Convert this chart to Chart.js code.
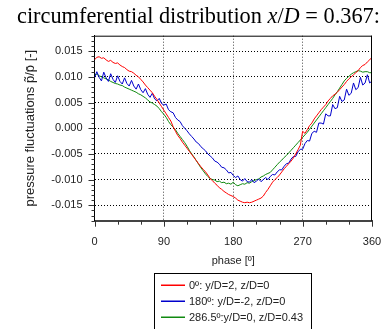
<!DOCTYPE html>
<html><head><meta charset="utf-8">
<script src="https://cdn.jsdelivr.net/npm/chart.js@4.4.0/dist/chart.umd.min.js"></script>
<style>html,body{margin:0;padding:0;background:#fff;}canvas{display:block}</style>
</head><body>
<canvas id="c" width="384" height="329"></canvas>
<script>
const phase = [
0,3,6,9,12,15,18,21,24,27,
30,33,36,39,42,45,48,51,54,57,
60,63,66,69,72,75,78,81,84,87,
90,93,96,99,102,105,108,111,114,117,
120,123,126,129,132,135,138,141,144,147,
150,153,156,159,162,165,168,171,174,177,
180,183,186,189,192,195,198,201,204,207,
210,213,216,219,222,225,228,231,234,237,
240,243,246,249,252,255,258,261,264,267,
270,273,276,279,282,285,288,291,294,297,
300,303,306,309,312,315,318,321,324,327,
330,333,336,339,342,345,348,351,354,357,
360];
const red = [
0.0133,0.0138,0.0139,0.0136,0.0137,0.0133,0.0130,0.0132,0.0128,0.0126,
0.0127,0.0123,0.0120,0.0118,0.0114,0.0111,0.0110,0.0107,0.0103,0.0100,
0.0095,0.0090,0.0084,0.0079,0.0074,0.0069,0.0062,0.0056,0.0049,0.0042,
0.0035,0.0028,0.0021,0.0014,0.0003,-0.0006,-0.0014,-0.0020,-0.0027,-0.0033,
-0.0039,-0.0045,-0.0051,-0.0057,-0.0063,-0.0069,-0.0075,-0.0080,-0.0085,-0.0091,
-0.0098,-0.0102,-0.0107,-0.0111,-0.0116,-0.0119,-0.0123,-0.0126,-0.0129,-0.0131,
-0.0133,-0.0136,-0.0140,-0.0142,-0.0144,-0.0145,-0.0144,-0.0145,-0.0144,-0.0142,
-0.0140,-0.0138,-0.0136,-0.0132,-0.0125,-0.0119,-0.0112,-0.0105,-0.0100,-0.0096,
-0.0091,-0.0085,-0.0079,-0.0074,-0.0069,-0.0064,-0.0058,-0.0050,-0.0042,-0.0033,
-0.0006,-0.0010,-0.0003,0.0005,0.0010,0.0018,0.0024,0.0030,0.0036,0.0041,
0.0046,0.0053,0.0058,0.0063,0.0066,0.0070,0.0075,0.0080,0.0085,0.0091,
0.0096,0.0100,0.0104,0.0108,0.0112,0.0118,0.0122,0.0124,0.0129,0.0133,
0.0138];
const blue = [
0.0098,0.0110,0.0099,0.0092,0.0109,0.0098,0.0091,0.0106,0.0095,0.0089,
0.0102,0.0091,0.0086,0.0098,0.0087,0.0082,0.0093,0.0082,0.0076,0.0086,
0.0075,0.0069,0.0077,0.0066,0.0060,0.0068,0.0057,0.0053,0.0058,0.0048,
0.0045,0.0047,0.0036,0.0032,0.0030,0.0021,0.0016,0.0013,0.0005,0.0000,
-0.0005,-0.0011,-0.0016,-0.0021,-0.0027,-0.0030,-0.0036,-0.0040,-0.0044,-0.0050,
-0.0054,-0.0058,-0.0064,-0.0066,-0.0070,-0.0076,-0.0077,-0.0081,-0.0087,-0.0086,
-0.0092,-0.0096,-0.0093,-0.0100,-0.0103,-0.0098,-0.0104,-0.0105,-0.0100,-0.0106,
-0.0103,-0.0099,-0.0104,-0.0100,-0.0096,-0.0100,-0.0094,-0.0090,-0.0091,-0.0085,
-0.0081,-0.0081,-0.0074,-0.0069,-0.0068,-0.0060,-0.0055,-0.0055,-0.0046,-0.0041,
-0.0041,-0.0030,-0.0024,-0.0025,-0.0010,-0.0006,-0.0008,0.0010,0.0010,0.0008,
0.0028,0.0024,0.0024,0.0046,0.0038,0.0040,0.0062,0.0052,0.0055,0.0076,
0.0064,0.0068,0.0088,0.0075,0.0079,0.0099,0.0084,0.0088,0.0104,0.0088,
0.0092];
const green = [
0.0104,0.0105,0.0102,0.0100,0.0098,0.0096,0.0094,0.0091,0.0089,0.0087,
0.0086,0.0084,0.0083,0.0080,0.0078,0.0076,0.0074,0.0072,0.0070,0.0067,
0.0065,0.0062,0.0059,0.0055,0.0051,0.0049,0.0046,0.0043,0.0038,0.0032,
0.0027,0.0021,0.0013,0.0007,0.0002,-0.0003,-0.0010,-0.0016,-0.0022,-0.0028,
-0.0035,-0.0043,-0.0050,-0.0056,-0.0063,-0.0070,-0.0077,-0.0083,-0.0089,-0.0094,
-0.0098,-0.0100,-0.0101,-0.0104,-0.0103,-0.0106,-0.0105,-0.0108,-0.0107,-0.0109,
-0.0105,-0.0110,-0.0112,-0.0110,-0.0108,-0.0109,-0.0106,-0.0107,-0.0104,-0.0102,
-0.0100,-0.0099,-0.0095,-0.0093,-0.0090,-0.0088,-0.0086,-0.0081,-0.0076,-0.0071,
-0.0066,-0.0062,-0.0057,-0.0053,-0.0048,-0.0043,-0.0038,-0.0033,-0.0028,-0.0023,
-0.0018,-0.0013,-0.0008,-0.0002,0.0004,0.0010,0.0016,0.0022,0.0028,0.0034,
0.0040,0.0046,0.0052,0.0058,0.0065,0.0071,0.0078,0.0085,0.0092,0.0097,
0.0101,0.0105,0.0108,0.0110,0.0112,0.0111,0.0109,0.0110,0.0110,0.0108,
0.0108];
const seriesLabels = ['0\u00ba: y/D=2, z/D=0', '180\u00ba: y/D=-2, z/D=0', '286.5\u00ba:y/D=0, z/D=0.43'];
const seriesColors = ['#ff0000', '#0000cc', '#108a10'];
const xTickValues = [0, 90, 180, 270, 360];
const yTickValues = [-0.015, -0.010, -0.005, 0.000, 0.005, 0.010, 0.015];
const xMinorStep = 30;
const yMinorStep = 0.001;

const SANS = '"Liberation Sans", Arial, sans-serif';
const SERIF = '"Liberation Serif", "Times New Roman", serif';

const series = [red, blue, green];
const datasets = series.map((s, i) => ({
  label: seriesLabels[i],
  data: phase.map((p, j) => ({x: p, y: s[j]})),
  borderColor: seriesColors[i],
  backgroundColor: seriesColors[i],
  borderWidth: 1,
  pointRadius: 0,
  tension: 0,
  fill: false
}));

const framePlugin = {
  id: 'frame',
  afterDraw(chart) {
    const {ctx, chartArea: a, scales: {x, y}} = chart;
    ctx.save();
    ctx.setLineDash([]);
    ctx.strokeStyle = '#000';
    ctx.lineWidth = 1;
    ctx.beginPath();
    ctx.moveTo(a.left, a.top + 0.5); ctx.lineTo(a.right, a.top + 0.5);
    ctx.moveTo(a.right - 0.5, a.top); ctx.lineTo(a.right - 0.5, a.bottom);
    ctx.stroke();
    ctx.strokeStyle = '#333';
    ctx.beginPath();
    const n = Math.round((y.max - y.min) / yMinorStep);
    for (let k = 0; k <= n; k++) {
      const v = y.min + k * yMinorStep;
      const py = Math.round(y.getPixelForValue(v)) + 0.5;
      const isMajor = yTickValues.some(t => Math.abs(t - v) < 1e-7);
      const len = isMajor ? 6 : 3;
      ctx.moveTo(a.left - len, py); ctx.lineTo(a.left, py);
    }
    for (let d = x.min; d <= x.max; d += xMinorStep) {
      const px = Math.round(x.getPixelForValue(d)) + 0.5;
      const len = xTickValues.includes(d) ? 6 : 4;
      ctx.moveTo(px, a.bottom); ctx.lineTo(px, a.bottom + len);
    }
    ctx.stroke();
    ctx.restore();

    // title with italic math part, fitted to the reference width
    ctx.save();
    ctx.fillStyle = '#000';
    ctx.textBaseline = 'alphabetic';
    const parts = [
      ['circumferential distribution ', ''],
      ['x', 'italic '],
      ['/', ''],
      ['D', 'italic '],
      [' = 0.367:', '']
    ];
    const fontFor = (st, sz) => st + sz + 'px ' + SERIF;
    let w = 0;
    for (const [t, st] of parts) { ctx.font = fontFor(st, 20); w += ctx.measureText(t).width; }
    const size = 20 * 363 / w;
    let tx = 17;
    for (const [t, st] of parts) {
      ctx.font = fontFor(st, size);
      ctx.fillText(t, tx, 23);
      tx += ctx.measureText(t).width;
    }
    ctx.restore();

    // legend box
    ctx.save();
    ctx.setLineDash([]);
    ctx.strokeStyle = '#000';
    ctx.lineWidth = 1;
    ctx.strokeRect(154.5, 273.5, 157, 60);
    ctx.font = '11px ' + SANS;
    ctx.textBaseline = 'middle';
    chart.data.datasets.forEach((ds, i) => {
      const ry = 285 + i * 16;
      ctx.fillStyle = seriesColors[i];
      ctx.fillRect(161, ry - 0.5, 24, 1.5);
      ctx.fillStyle = '#222';
      ctx.fillText(ds.label, 189, ry + 0.5);
    });
    ctx.restore();
  }
};

new Chart(document.getElementById('c'), {
  type: 'line',
  data: {datasets},
  plugins: [framePlugin],
  options: {
    responsive: false,
    animation: false,
    devicePixelRatio: 1,
    layout: {padding: {left: 0, right: 12, top: 35.7, bottom: 61}},
    plugins: {legend: {display: false}, tooltip: {enabled: false}, title: {display: false}},
    scales: {
      x: {
        type: 'linear', min: 0, max: 360,
        afterBuildTicks: s => { s.ticks = xTickValues.map(v => ({value: v})); },
        afterFit: s => { s.height = 47.3; s.paddingLeft = 0; s.paddingRight = 0; },
        ticks: {font: {family: SANS, size: 11}, color: '#222', padding: 15, maxRotation: 0},
        grid: {
          color: c => (c.tick && (c.tick.value === 0 || c.tick.value === 360)) ? 'rgba(0,0,0,0)' : '#444',
          lineWidth: 1, drawTicks: false
        },
        border: {display: true, color: '#444', width: 2, dash: [1, 2], dashOffset: 0},
        title: {display: true, text: 'phase [\u00ba]', font: {family: SANS, size: 11}, color: '#222', padding: 0}
      },
      y: {
        type: 'linear', min: -0.018, max: 0.018,
        afterBuildTicks: s => { s.ticks = yTickValues.map(v => ({value: v})); },
        afterFit: s => { s.width = 94.5; s.paddingTop = 0; s.paddingBottom = 0; },
        ticks: {font: {family: SANS, size: 11}, color: '#222', padding: 12, callback: v => v.toFixed(3)},
        grid: {color: '#000', lineWidth: 1, drawTicks: false},
        border: {display: true, color: '#000', width: 1, dash: [1, 2]},
        title: {display: true, text: 'pressure fluctuations p\u0303/p\u0304 [-]', font: {family: SANS, size: 13}, color: '#222', padding: {top: 23, bottom: 0}}
      }
    }
  }
});
</script>
</body></html>
